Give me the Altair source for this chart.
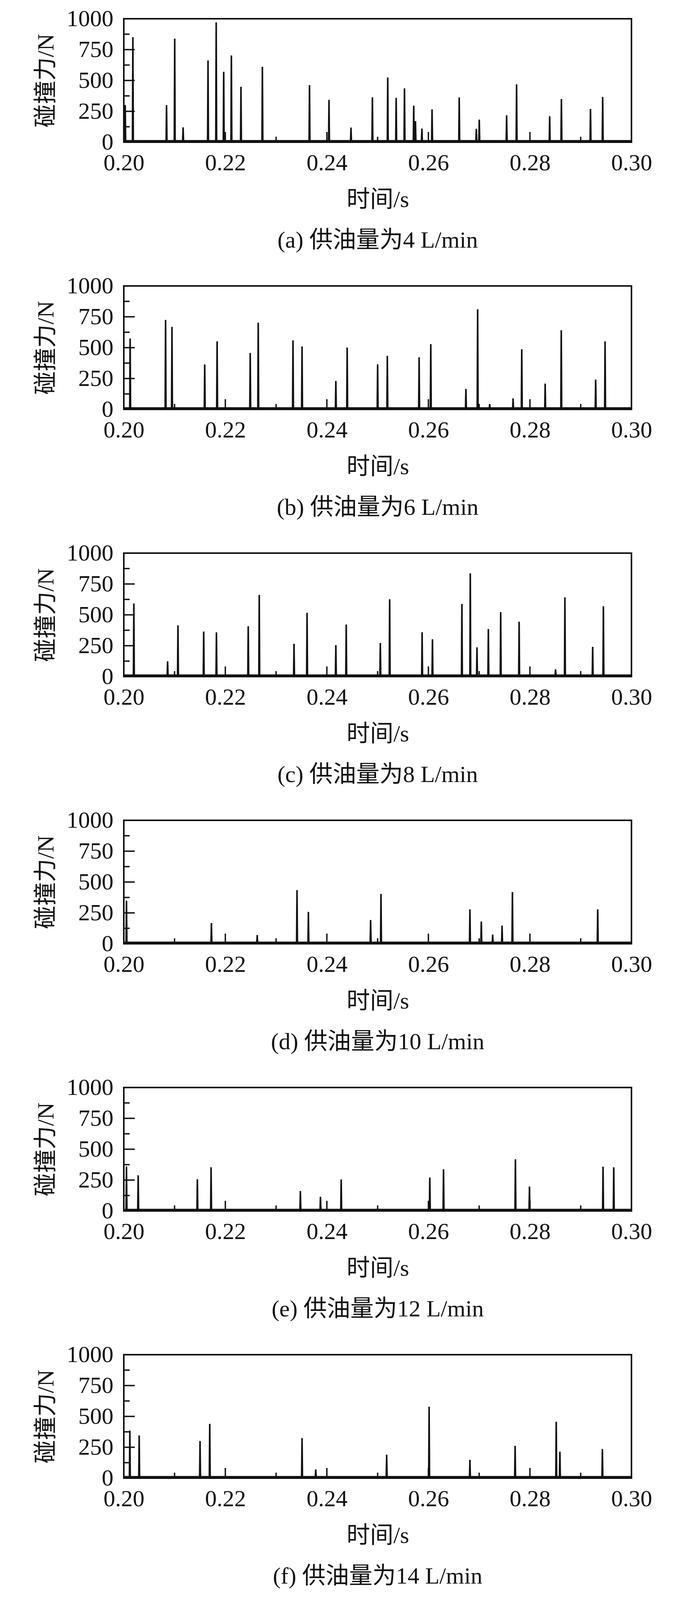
import altair as alt
import pandas as pd

# ---------------- data ----------------
captions = ["(a) 供油量为4 L/min", "(b) 供油量为6 L/min", "(c) 供油量为8 L/min",
            "(d) 供油量为10 L/min", "(e) 供油量为12 L/min", "(f) 供油量为14 L/min"]

a_t = [0.20028, 0.20179, 0.20842, 0.21003, 0.21168, 0.21659, 0.21820, 0.21968, 0.22119, 0.22308,
       0.22730, 0.23658, 0.24042, 0.24475, 0.24897, 0.25199, 0.25365, 0.25529, 0.25711, 0.25745,
       0.25872, 0.26072, 0.26607, 0.26944, 0.27002, 0.27541, 0.27737, 0.28389, 0.28620, 0.29193, 0.29433]
a_f = [295, 845, 295, 833, 115, 657, 965, 565, 697, 443,
       605, 457, 338, 113, 358, 518, 354, 430, 290, 165,
       105, 260, 357, 103, 177, 212, 463, 205, 344, 264, 361]

b_t = [0.20125, 0.20823, 0.20949, 0.21594, 0.21838, 0.22490, 0.22648, 0.23333, 0.23511, 0.24177,
       0.24400, 0.25000, 0.25191, 0.25817, 0.26047, 0.26739, 0.26970, 0.27207, 0.27668, 0.27839,
       0.28300, 0.28617, 0.29295, 0.29480]
b_f = [569, 719, 663, 358, 545, 452, 697, 553, 505, 225,
       495, 360, 429, 417, 523, 160, 805, 39, 84, 482,
       203, 635, 236, 545]

c_t = [0.20198, 0.20863, 0.21067, 0.21574, 0.21825, 0.22451, 0.22668, 0.23353, 0.23610, 0.24177,
       0.24381, 0.25053, 0.25237, 0.25876, 0.26080, 0.26660, 0.26825, 0.26957, 0.27181, 0.27424,
       0.27787, 0.28505, 0.28689, 0.29236, 0.29447]
c_f = [586, 118, 410, 359, 353, 402, 656, 260, 511, 249,
       416, 266, 620, 354, 297, 583, 831, 231, 380, 517,
       439, 54, 636, 235, 564]

d_t = [0.20053, 0.21726, 0.22628, 0.23412, 0.23636, 0.24862, 0.25066, 0.26818, 0.27042, 0.27266,
       0.27451, 0.27655, 0.29335]
d_f = [343, 162, 66, 429, 252, 187, 398, 273, 175, 69, 142, 413, 273]

e_t = [0.20053, 0.20283, 0.21449, 0.21719, 0.23478, 0.23874, 0.24282, 0.26028, 0.26298, 0.27714,
       0.27991, 0.29440, 0.29651]
e_f = [355, 283, 251, 348, 156, 109, 249, 265, 332, 413, 192, 353, 348]

f_t = [0.20119, 0.20303, 0.21502, 0.21693, 0.23511, 0.23781, 0.25178, 0.26014, 0.26818, 0.27708,
       0.28518, 0.28590, 0.29427]
f_f = [380, 340, 295, 434, 319, 65, 184, 573, 143, 256, 451, 209, 230]

baseline_force = 12

x_ticks_label = [0.20, 0.22, 0.24, 0.26, 0.28, 0.30]
x_ticks_major = [0.22, 0.24, 0.26, 0.28]
x_ticks_minor = [0.21, 0.23, 0.25, 0.27, 0.29]
y_ticks_label = [0, 250, 500, 750, 1000]
y_ticks_major = [250, 500, 750]
y_ticks_minor = [125, 375, 625, 875]

# ---------------- styling ----------------
FONT = "Liberation Serif, Noto Sans CJK SC"
FS = 60
W, H = 1300, 316
INK = "#111111"

xscale = alt.Scale(domain=[0.2, 0.3], nice=False, zero=False)
yscale = alt.Scale(domain=[0, 1000], nice=False)

xaxis = alt.Axis(values=x_ticks_label, format=".2f", title="时间/s",
                 labelFontSize=FS, titleFontSize=FS, labelFont=FONT, titleFont=FONT,
                 labelColor=INK, titleColor=INK, titleFontWeight="normal",
                 ticks=False, tickSize=0, domain=False, grid=False,
                 labelPadding=24, titlePadding=35, labelFlush=False, labelOverlap=False)
yaxis = alt.Axis(values=y_ticks_label, format="d", title="碰撞力/N",
                 labelFontSize=FS, titleFontSize=FS, labelFont=FONT, titleFont=FONT,
                 labelColor=INK, titleColor=INK, titleFontWeight="normal",
                 ticks=False, tickSize=0, domain=False, grid=False,
                 labelPadding=27, titlePadding=21, labelFlush=False, labelOverlap=False)


def spike_frame(ts, fs):
    rows = [(0.2, baseline_force)]
    for t, f in zip(ts, fs):
        rows += [(t - 0.0001, baseline_force), (t - 0.00002, f),
                 (t + 0.00002, f), (t + 0.0001, baseline_force)]
    rows.append((0.3, baseline_force))
    df = pd.DataFrame(rows, columns=["t", "f"])
    df["i"] = range(len(df))
    return df


def panel(ts, fs, caption):
    line = alt.Chart(spike_frame(ts, fs)).mark_line(
        color=INK, strokeWidth=3.5, clip=True, strokeJoin="miter"
    ).encode(
        x=alt.X("t:Q", scale=xscale, axis=xaxis),
        y=alt.Y("f:Q", scale=yscale, axis=yaxis),
        order="i:Q",
    )
    ymaj = alt.Chart(pd.DataFrame({"f": y_ticks_major})).mark_rule(color=INK, strokeWidth=3.5).encode(
        y=alt.Y("f:Q", scale=yscale, axis=yaxis), x=alt.value(0), x2=alt.value(28))
    ymin = alt.Chart(pd.DataFrame({"f": y_ticks_minor})).mark_rule(color=INK, strokeWidth=3.5).encode(
        y=alt.Y("f:Q", scale=yscale, axis=yaxis), x=alt.value(0), x2=alt.value(15))
    xmaj = alt.Chart(pd.DataFrame({"t": x_ticks_major})).mark_rule(color=INK, strokeWidth=3.5).encode(
        x=alt.X("t:Q", scale=xscale, axis=xaxis), y=alt.value(H), y2=alt.value(H - 26))
    xmin = alt.Chart(pd.DataFrame({"t": x_ticks_minor})).mark_rule(color=INK, strokeWidth=3.5).encode(
        x=alt.X("t:Q", scale=xscale, axis=xaxis), y=alt.value(H), y2=alt.value(H - 14))
    return alt.layer(line, ymaj, ymin, xmaj, xmin).properties(
        width=W, height=H,
        title=alt.TitleParams(text=caption, orient="bottom", fontSize=FS, font=FONT,
                              fontWeight="normal", color=INK, offset=46, anchor="middle",
                              frame="group"),
    )


series = [(a_t, a_f), (b_t, b_f), (c_t, c_f), (d_t, d_f), (e_t, e_f), (f_t, f_f)]
panels = [panel(t, f, c) for (t, f), c in zip(series, captions)]

chart = alt.vconcat(*panels, spacing=52).properties(
    padding={"left": 78, "top": 8, "right": 10, "bottom": 5},
    background="white",
).configure_view(
    stroke=INK, strokeWidth=4
)

chart.save("out.html", embed_options={"renderer": "svg", "actions": False})
